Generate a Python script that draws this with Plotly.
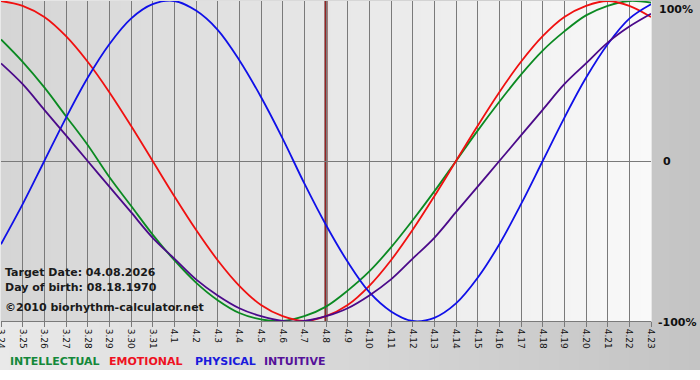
import plotly.graph_objects as go

# ---- data ----
days = ["3.24", "3.25", "3.26", "3.27", "3.28", "3.29", "3.30", "3.31",
        "4.1", "4.2", "4.3", "4.4", "4.5", "4.6", "4.7", "4.8", "4.9", "4.10",
        "4.11", "4.12", "4.13", "4.14", "4.15", "4.16", "4.17", "4.18", "4.19",
        "4.20", "4.21", "4.22", "4.23"]
target_day = "4.8"

intellectual = [0.76, 0.62, 0.46, 0.28, 0.10, -0.10, -0.28, -0.46, -0.62, -0.76,
                -0.87, -0.95, -0.99, -1.00, -0.97, -0.91, -0.81, -0.69, -0.54,
                -0.37, -0.19, 0.00, 0.19, 0.37, 0.54, 0.69, 0.81, 0.91, 0.97,
                1.00, 0.99]
emotional = [1.00, 0.97, 0.90, 0.78, 0.62, 0.43, 0.22, 0.00, -0.22, -0.43,
             -0.62, -0.78, -0.90, -0.97, -1.00, -0.97, -0.90, -0.78, -0.62,
             -0.43, -0.22, 0.00, 0.22, 0.43, 0.62, 0.78, 0.90, 0.97, 1.00,
             0.97, 0.90]
physical = [-0.52, -0.27, 0.00, 0.27, 0.52, 0.73, 0.89, 0.98, 1.00, 0.94,
            0.82, 0.63, 0.40, 0.14, -0.14, -0.40, -0.63, -0.82, -0.94, -1.00,
            -0.98, -0.89, -0.73, -0.52, -0.27, 0.00, 0.27, 0.52, 0.73, 0.89,
            0.98]
intuitive = [0.61, 0.48, 0.32, 0.16, 0.00, -0.16, -0.32, -0.48, -0.61, -0.74,
             -0.84, -0.92, -0.97, -1.00, -1.00, -0.97, -0.92, -0.84, -0.74,
             -0.61, -0.48, -0.32, -0.16, 0.00, 0.16, 0.32, 0.48, 0.61, 0.74,
             0.84, 0.92]

series_names = ["INTELLECTUAL", "EMOTIONAL", "PHYSICAL", "INTUITIVE"]
series_values = [intellectual, emotional, physical, intuitive]
line_colors = ["#0b8a22", "#f01010", "#1010e8", "#4b0a8a"]
text_colors = ["#14883a", "#ee1122", "#1a1adc", "#551199"]

info_lines = ["Target Date: 04.08.2026", "Day of birth: 08.18.1970",
              "\u00a92010 biorhythm-calculator.net"]
y_labels = ["100%", "0", "-100%"]

# ---- geometry ----
W, H = 700, 380
L, T, PW, PH = 1, 1, 650, 320
B = H - T - PH
R = W - L - PW


def px_to_xp(px):
    return (px - L) / PW


def py_to_yp(py):
    return (T + PH - py) / PH


def gray(v):
    v = int(round(v))
    return f"rgb({v},{v},{v})"


xs = list(range(len(days)))
fig = go.Figure()
for name, vals, col in zip(series_names, series_values, line_colors):
    fig.add_trace(go.Scatter(x=xs, y=vals, mode="lines", name=name,
                             line=dict(color=col, width=1.8, shape="spline",
                                       smoothing=1.0),
                             hoverinfo="skip"))

shapes = []
# outer gradient (page area)
N_OUT = 70
for k in range(N_OUT):
    p0 = k * W / N_OUT
    p1 = (k + 1) * W / N_OUT
    v = 233 - (233 - 196) * (k + 0.5) / N_OUT
    shapes.append(dict(type="rect", xref="paper", yref="paper",
                       x0=px_to_xp(p0 - 1), x1=px_to_xp(p1 + 0.5),
                       y0=py_to_yp(370), y1=py_to_yp(-2),
                       fillcolor=gray(v), line=dict(width=0), layer="below"))
# plot area gradient
N_IN = 65
for k in range(N_IN):
    v = 213 + (249 - 213) * (k + 0.5) / N_IN
    shapes.append(dict(type="rect", xref="paper", yref="paper",
                       x0=k / N_IN, x1=(k + 1) / N_IN + 0.001, y0=0, y1=1,
                       fillcolor=gray(v), line=dict(width=0), layer="below"))
ti = days.index(target_day)
shapes.append(dict(type="line", xref="x", yref="paper", x0=ti, x1=ti,
                   y0=0, y1=1, line=dict(color="#601010", width=3),
                   layer="below"))
shapes.append(dict(type="line", xref="x", yref="paper", x0=ti, x1=ti,
                   y0=0, y1=1, line=dict(color="#c83838", width=1),
                   layer="below"))

annotations = []
info_y = [272, 287, 307]
for txt, py in zip(info_lines, info_y):
    annotations.append(dict(text="<b>" + txt + "</b>", xref="paper",
                            yref="paper", x=px_to_xp(3), y=py_to_yp(py),
                            xanchor="left", yanchor="middle", showarrow=False,
                            font=dict(family="DejaVu Sans", size=11,
                                      color="#1a1a1a")))
for txt, px, py in zip(y_labels, [657, 661, 656], [9, 161, 322]):
    annotations.append(dict(text="<b>" + txt + "</b>", xref="paper",
                            yref="paper", x=px_to_xp(px), y=py_to_yp(py),
                            xanchor="left", yanchor="middle", showarrow=False,
                            font=dict(family="DejaVu Sans", size=11,
                                      color="#111111")))
for txt, col, px in zip(series_names, text_colors, [8, 107, 193, 262]):
    annotations.append(dict(text="<b>" + txt + "</b>", xref="paper",
                            yref="paper", x=px_to_xp(px), y=py_to_yp(361),
                            xanchor="left", yanchor="middle", showarrow=False,
                            font=dict(family="DejaVu Sans", size=11,
                                      color=col)))

fig.update_layout(
    width=W, height=H,
    margin=dict(l=L, r=R, t=T, b=B, pad=0, autoexpand=False),
    paper_bgcolor="white",
    plot_bgcolor="rgba(0,0,0,0)",
    showlegend=False,
    shapes=shapes,
    annotations=annotations,
    xaxis=dict(range=[0, len(days) - 1], tickmode="array", tickvals=xs,
               ticktext=days, tickangle=90, showgrid=True,
               gridcolor="#7a7a7a", gridwidth=1, showline=True,
               linecolor="#7a7a7a", linewidth=1, ticks="outside", ticklen=5,
               tickcolor="#7a7a7a", zeroline=False, automargin=False,
               ticklabeloverflow="allow",
               tickfont=dict(family="DejaVu Sans", size=9, color="#111111"),
               fixedrange=True),
    yaxis=dict(range=[-1, 1], showgrid=False, zeroline=True,
               zerolinecolor="#7a7a7a", zerolinewidth=1, showticklabels=False,
               ticks="", showline=False, fixedrange=True, automargin=False),
)

fig.write_html("out.html", config={"displayModeBar": False},
               post_script="document.body.style.margin='0';"
                           "document.body.style.overflow='hidden';")
